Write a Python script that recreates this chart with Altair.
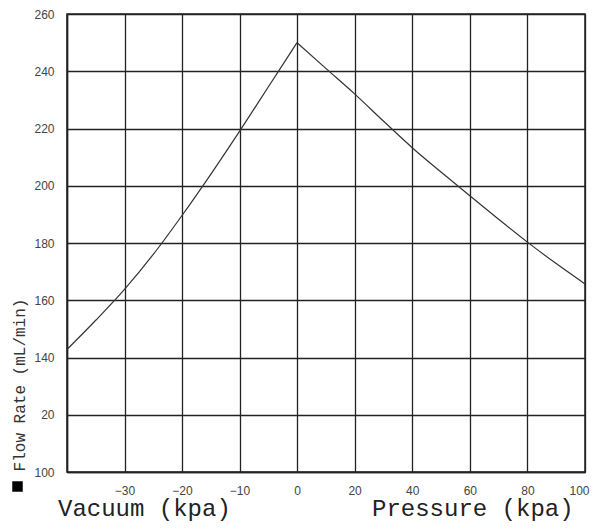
import altair as alt
import pandas as pd

# Data
vac_pressure = [-40, -35, -30, -25, -20, -15, -10, -5, 0]
vac_flow = [142.8, 153.0, 163.8, 176.0, 189.6, 204.0, 219.0, 234.5, 250.0]
pos_pressure = [0, 10, 20, 30, 40, 50, 60, 70, 80, 90, 100]
pos_flow = [250.0, 241.0, 232.1, 222.6, 213.3, 204.8, 196.5, 188.3, 180.3, 172.8, 165.7]
x_ticks = [-40, -30, -20, -10, 0, 20, 40, 60, 80, 100]
y_ticks = [100, 120, 140, 160, 180, 200, 220, 240, 260]

df = pd.concat([
    pd.DataFrame({"p": vac_pressure, "f": vac_flow, "side": "vacuum"}),
    pd.DataFrame({"p": pos_pressure, "f": pos_flow, "side": "pressure"}),
], ignore_index=True)

W, H = 518, 458
GRID = "#222222"
LABEL_FONT = "Liberation Sans Narrow, Arial Narrow, Liberation Sans"
MONO = "Liberation Mono, DejaVu Sans Mono"

line = alt.Chart(df).mark_line(color="#333333", strokeWidth=1.2, interpolate="monotone").encode(
    x=alt.X("p:Q",
            scale=alt.Scale(domain=[-40, 0, 100], range=[0, 230, W]),
            axis=alt.Axis(values=x_ticks, title=None, grid=True, gridColor=GRID, gridWidth=1.3,
                          gridOpacity=1, ticks=False, tickSize=0, labelPadding=13,
                          labelExpr="datum.value == -40 ? '' : datum.label",
                          labelFont=LABEL_FONT, labelFontSize=12, labelColor="#444444",
                          domainColor=GRID, domainWidth=1.5,
                          labelFlush=True, labelFlushOffset=4)),
    y=alt.Y("f:Q",
            scale=alt.Scale(domain=[100, 260], nice=False, zero=False),
            axis=alt.Axis(values=y_ticks, title=None, grid=True, gridColor=GRID, gridWidth=1.3,
                          gridOpacity=1, ticks=False, tickSize=0, labelPadding=13,
                          labelExpr="datum.value == 120 ? '20' : datum.label",
                          labelFont=LABEL_FONT, labelFontSize=12, labelColor="#444444",
                          domainColor=GRID, domainWidth=1.5, labelFlush=False)),
    detail="side:N",
)

one = alt.Data(values=[{"a": 1}])

ytitle = alt.Chart(one).mark_text(
    text="Flow Rate (mL/min)", angle=270, font=MONO, fontSize=16, color="#333333",
    align="center", baseline="middle"
).encode(x=alt.value(-47), y=alt.value(371))

square = alt.Chart(one).mark_square(size=110, color="black", opacity=1, filled=True).encode(
    x=alt.value(-49.5), y=alt.value(472.5))

vac = alt.Chart(one).mark_text(
    text="Vacuum (kpa)", font=MONO, fontSize=24, color="#222222",
    align="left", baseline="alphabetic"
).encode(x=alt.value(-9), y=alt.value(502))

pres = alt.Chart(one).mark_text(
    text="Pressure (kpa)", font=MONO, fontSize=24, color="#222222",
    align="left", baseline="alphabetic"
).encode(x=alt.value(305), y=alt.value(502))

chart = alt.layer(line, ytitle, square, vac, pres).properties(
    width=W, height=H,
    autosize=alt.AutoSizeParams(type="none"),
    padding={"left": 59, "top": 6, "right": 6, "bottom": 51},
    background="white",
).configure_view(stroke=GRID, strokeWidth=1.5)

chart.save("out.html", embed_options={"renderer": "svg", "actions": False})
